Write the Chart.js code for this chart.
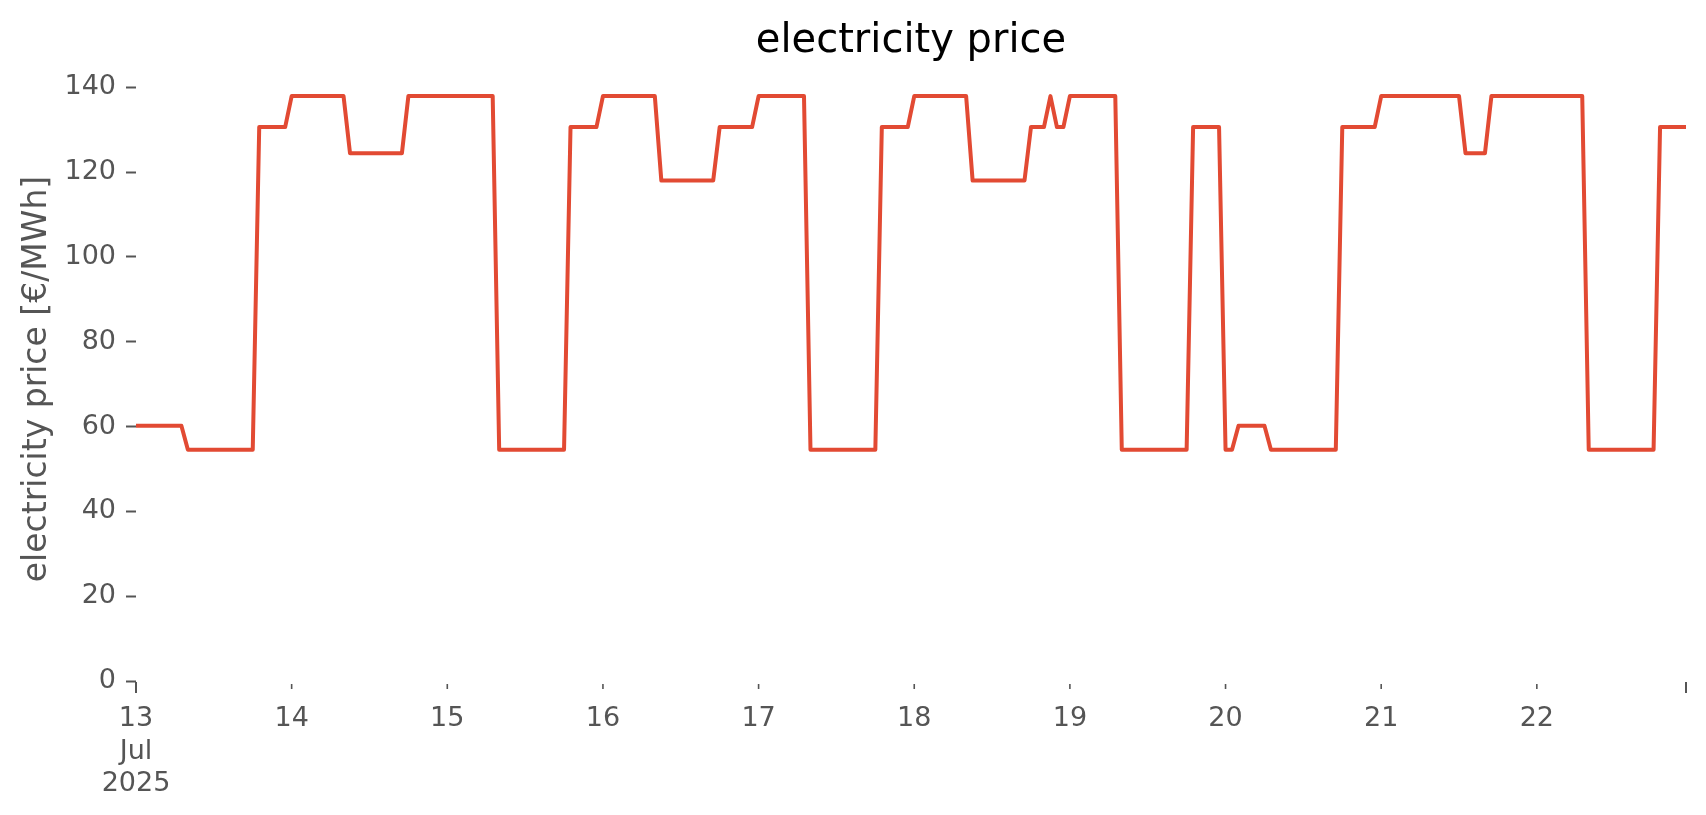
<!DOCTYPE html>
<html lang="en">
<head>
    <meta charset="UTF-8">
    <title>electricity price</title>
    <script src="https://cdn.jsdelivr.net/npm/chart.js@4.4.1/dist/chart.umd.min.js"></script>
    <style>
        body {
            margin: 0;
            background-color: #ffffff;
        }
        #wrap {
            width: 1706px;
            height: 815px;
        }
    </style>
</head>
<body>
    <div id="wrap">
        <canvas id="priceChart" width="1706" height="815"></canvas>
    </div>

    <script>
        // hourly price in €/MWh, 13 Jul 2025 00:00 .. 22 Jul 2025 23:00 (one row per day)
        const prices = [
            60.2, 60.2, 60.2, 60.2, 60.2, 60.2, 60.2, 60.2, 54.5, 54.5, 54.5, 54.5, 54.5, 54.5, 54.5, 54.5, 54.5, 54.5, 54.5, 130.6, 130.6, 130.6, 130.6, 130.6,
            137.9, 137.9, 137.9, 137.9, 137.9, 137.9, 137.9, 137.9, 137.9, 124.4, 124.4, 124.4, 124.4, 124.4, 124.4, 124.4, 124.4, 124.4, 137.9, 137.9, 137.9, 137.9, 137.9, 137.9,
            137.9, 137.9, 137.9, 137.9, 137.9, 137.9, 137.9, 137.9, 54.5, 54.5, 54.5, 54.5, 54.5, 54.5, 54.5, 54.5, 54.5, 54.5, 54.5, 130.6, 130.6, 130.6, 130.6, 130.6,
            137.9, 137.9, 137.9, 137.9, 137.9, 137.9, 137.9, 137.9, 137.9, 118.0, 118.0, 118.0, 118.0, 118.0, 118.0, 118.0, 118.0, 118.0, 130.6, 130.6, 130.6, 130.6, 130.6, 130.6,
            137.9, 137.9, 137.9, 137.9, 137.9, 137.9, 137.9, 137.9, 54.5, 54.5, 54.5, 54.5, 54.5, 54.5, 54.5, 54.5, 54.5, 54.5, 54.5, 130.6, 130.6, 130.6, 130.6, 130.6,
            137.9, 137.9, 137.9, 137.9, 137.9, 137.9, 137.9, 137.9, 137.9, 118.0, 118.0, 118.0, 118.0, 118.0, 118.0, 118.0, 118.0, 118.0, 130.6, 130.6, 130.6, 137.9, 130.6, 130.6,
            137.9, 137.9, 137.9, 137.9, 137.9, 137.9, 137.9, 137.9, 54.5, 54.5, 54.5, 54.5, 54.5, 54.5, 54.5, 54.5, 54.5, 54.5, 54.5, 130.6, 130.6, 130.6, 130.6, 130.6,
            54.5, 54.5, 60.2, 60.2, 60.2, 60.2, 60.2, 54.5, 54.5, 54.5, 54.5, 54.5, 54.5, 54.5, 54.5, 54.5, 54.5, 54.5, 130.6, 130.6, 130.6, 130.6, 130.6, 130.6,
            137.9, 137.9, 137.9, 137.9, 137.9, 137.9, 137.9, 137.9, 137.9, 137.9, 137.9, 137.9, 137.9, 124.4, 124.4, 124.4, 124.4, 137.9, 137.9, 137.9, 137.9, 137.9, 137.9, 137.9,
            137.9, 137.9, 137.9, 137.9, 137.9, 137.9, 137.9, 137.9, 54.5, 54.5, 54.5, 54.5, 54.5, 54.5, 54.5, 54.5, 54.5, 54.5, 54.5, 130.6, 130.6, 130.6, 130.6, 130.6
        ];

        const dayLabels = ['13', '14', '15', '16', '17', '18', '19', '20', '21', '22'];
        const monthLabel = 'Jul';
        const yearLabel = '2025';
        const hoursPerDay = 24;
        const yTicks = [0, 20, 40, 60, 80, 100, 120, 140];

        const FONT = '"DejaVu Sans", sans-serif';
        const GREY = '#555555';

        // x ticks: midnight of every day, plus one at the end of the data
        const xTickValues = dayLabels.map((d, i) => i * hoursPerDay).concat([prices.length - 1]);
        const xTickLabels = dayLabels.map((d, i) => i === 0 ? [d, monthLabel, yearLabel] : d).concat(['']);

        // title centred over the plot area (not the whole canvas)
        const axesTitle = {
            id: 'axesTitle',
            afterDraw(chart) {
                const { ctx, chartArea } = chart;
                ctx.save();
                ctx.font = '40px ' + FONT;
                ctx.fillStyle = '#000000';
                ctx.textAlign = 'center';
                ctx.textBaseline = 'alphabetic';
                ctx.fillText('electricity price', (chartArea.left + chartArea.right) / 2, 52);
                ctx.restore();
            }
        };

        // short tick marks under the x axis, longer at both ends
        const xTickMarks = {
            id: 'xTickMarks',
            afterDraw(chart) {
                const scale = chart.scales.x;
                const ctx = chart.ctx;
                const y0 = chart.chartArea.bottom;
                const last = scale.ticks.length - 1;
                ctx.save();
                ctx.strokeStyle = GREY;
                scale.ticks.forEach((t, i) => {
                    const major = i === 0 || i === last;
                    const x = scale.getPixelForValue(t.value);
                    ctx.lineWidth = major ? 2 : 1.6;
                    ctx.beginPath();
                    ctx.moveTo(x, y0 + (major ? 1 : 3));
                    ctx.lineTo(x, y0 + (major ? 12 : 8));
                    ctx.stroke();
                });
                ctx.restore();
            }
        };

        new Chart(document.getElementById('priceChart'), {
            type: 'line',
            data: {
                datasets: [{
                    label: 'electricity price',
                    data: prices.map((p, i) => ({ x: i, y: p })),
                    borderColor: '#E24A33',
                    borderWidth: 4,
                    pointRadius: 0,
                    tension: 0,
                    borderJoinStyle: 'round',
                    borderCapStyle: 'square',
                    fill: false
                }]
            },
            options: {
                responsive: false,
                animation: false,
                layout: {
                    padding: { top: 77, right: 20, bottom: 0, left: 0 }
                },
                plugins: {
                    legend: { display: false },
                    title: { display: false },
                    tooltip: { enabled: false }
                },
                scales: {
                    x: {
                        type: 'linear',
                        min: 0,
                        max: prices.length - 1,
                        afterBuildTicks: s => { s.ticks = xTickValues.map(v => ({ value: v })); },
                        afterFit: s => { s.height = 134; },
                        grid: { display: false },
                        border: { display: false },
                        ticks: {
                            autoSkip: false,
                            maxRotation: 0,
                            minRotation: 0,
                            padding: 14,
                            color: GREY,
                            font: { family: FONT, size: 27 },
                            callback: (v, i) => xTickLabels[i]
                        }
                    },
                    y: {
                        min: 0,
                        max: 142.4,
                        afterBuildTicks: s => { s.ticks = yTicks.map(v => ({ value: v })); },
                        afterFit: s => { s.width = 136; },
                        grid: {
                            drawOnChartArea: false,
                            drawTicks: true,
                            tickLength: 10,
                            tickWidth: 2,
                            tickColor: GREY
                        },
                        border: { display: false },
                        ticks: {
                            padding: 10,
                            color: GREY,
                            font: { family: FONT, size: 27 }
                        },
                        title: {
                            display: true,
                            text: 'electricity price [€/MWh]',
                            color: GREY,
                            font: { family: FONT, size: 33 },
                            padding: { top: 18, bottom: 0 }
                        }
                    }
                }
            },
            plugins: [axesTitle, xTickMarks]
        });
    </script>
</body>
</html>
